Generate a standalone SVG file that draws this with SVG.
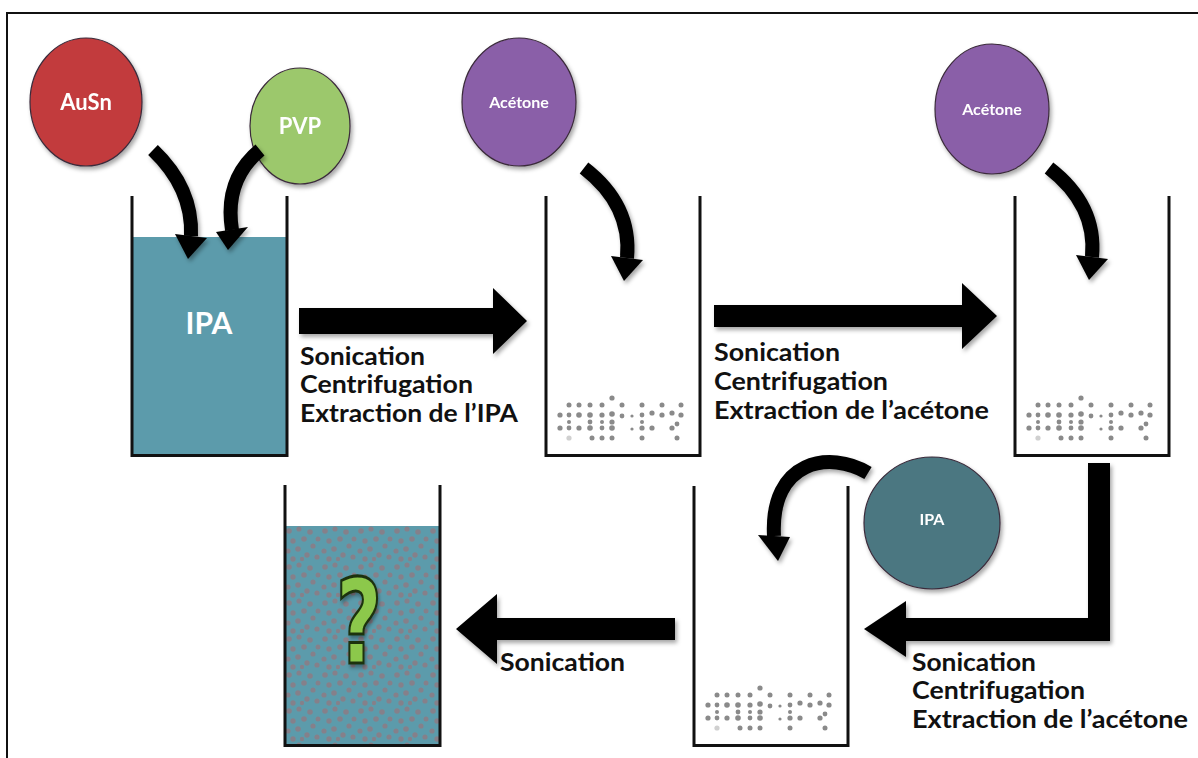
<svg xmlns="http://www.w3.org/2000/svg" width="1198" height="758" viewBox="0 0 1198 758">
<style>
.wall{fill:none;stroke:#111;stroke-width:3}
.liq{fill:#5c9bab}
.circ{stroke:#3a2a3a;stroke-width:1.2}
.ctext{font-family:"Lato","Liberation Sans",sans-serif;font-weight:700;fill:#fff;text-anchor:middle}
.lbl{font-family:"Lato","Liberation Sans",sans-serif;font-weight:700;font-size:24px;fill:#111}
.arr{fill:#000}
.carr{fill:none;stroke:#000;stroke-width:14}
.dot{fill:#8a8a8a}
</style>
<defs>
<filter id="sh" x="-20%" y="-20%" width="150%" height="150%">
<feDropShadow dx="2" dy="3" stdDeviation="2" flood-color="#000" flood-opacity="0.35"/>
</filter>
<pattern id="pdots" width="36" height="36" patternUnits="userSpaceOnUse" x="285" y="526">
<g fill="#8a7d86">
<circle cx="4" cy="5" r="2.8"/><circle cx="14" cy="3" r="2.6"/><circle cx="25" cy="6" r="2.8"/><circle cx="33" cy="13" r="2.5"/>
<circle cx="8" cy="15" r="2.7"/><circle cx="19" cy="13" r="2.8"/><circle cx="28" cy="20" r="2.6"/><circle cx="3" cy="25" r="2.6"/>
<circle cx="13" cy="23" r="2.8"/><circle cx="22" cy="29" r="2.7"/><circle cx="32" cy="31" r="2.6"/><circle cx="8" cy="33" r="2.7"/>
<circle cx="17" cy="33" r="2.2"/>
</g>
</pattern>
<g id="sed">
<circle class="dot" cx="66" cy="-57" r="2.6"/>
<circle class="dot" cx="23" cy="-50" r="2.5"/><circle class="dot" cx="33" cy="-50" r="2.5"/><circle class="dot" cx="44" cy="-50" r="2.5"/><circle class="dot" cx="56" cy="-50" r="2.5"/><circle class="dot" cx="76" cy="-50" r="2.5"/><circle class="dot" cx="96" cy="-50" r="2.5"/><circle class="dot" cx="116" cy="-50" r="2.5"/><circle class="dot" cx="135" cy="-50" r="2.5"/>
<circle class="dot" cx="14" cy="-40" r="2.6"/><circle class="dot" cx="23" cy="-40" r="2.4"/><circle class="dot" cx="33" cy="-40" r="2.8"/><circle class="dot" cx="44" cy="-40" r="2.8"/><circle class="dot" cx="56" cy="-40" r="2.6"/><circle class="dot" cx="66" cy="-41" r="2.8"/><circle class="dot" cx="76" cy="-39" r="2.4"/><circle class="dot" cx="86" cy="-39" r="1.6"/><circle class="dot" cx="96" cy="-40" r="2.4"/><circle class="dot" cx="106" cy="-42" r="2.6"/><circle class="dot" cx="116" cy="-40" r="2.6"/><circle class="dot" cx="126" cy="-42" r="2.6"/><circle class="dot" cx="135" cy="-40" r="2.6"/>
<circle class="dot" cx="23" cy="-33" r="2"/><circle class="dot" cx="44" cy="-33" r="2.4"/><circle class="dot" cx="56" cy="-33" r="2"/><circle class="dot" cx="66" cy="-33" r="2.6"/><circle class="dot" cx="96" cy="-33" r="2"/>
<circle class="dot" cx="14" cy="-27" r="2.6"/><circle class="dot" cx="23" cy="-27" r="2.4"/><circle class="dot" cx="33" cy="-27" r="2.6"/><circle class="dot" cx="44" cy="-27" r="2.8"/><circle class="dot" cx="56" cy="-27" r="2.4"/><circle class="dot" cx="66" cy="-27" r="2.8"/><circle class="dot" cx="86" cy="-26" r="1.6"/><circle class="dot" cx="96" cy="-27" r="2.6"/><circle class="dot" cx="106" cy="-27" r="2.6"/><circle class="dot" cx="126" cy="-27" r="2.6"/><circle class="dot" cx="131" cy="-31" r="2.4"/>
<circle cx="23" cy="-17" r="2.6" fill="#d0d0d0"/><circle class="dot" cx="46" cy="-17" r="2.5"/><circle class="dot" cx="56" cy="-17" r="2.5"/><circle class="dot" cx="66" cy="-17" r="2.5"/><circle class="dot" cx="96" cy="-17" r="2.5"/><circle class="dot" cx="131" cy="-17" r="2.5"/>
</g>
</defs>
<rect width="1198" height="758" fill="#fff"/>
<rect x="7" y="13" width="1220" height="800" fill="none" stroke="#111" stroke-width="2"/>

<g id="beaker-ipa">
<rect class="liq" x="132" y="237" width="155" height="218"/>
<path class="wall" d="M132 196 V455.5 H287 V196"/>
<text class="ctext" x="209" y="334" font-size="30">IPA</text>
</g>
<g id="beaker-2">
<path class="wall" d="M546 196 V455.5 H700 V196"/>
<use href="#sed" x="546" y="455"/>
</g>
<g id="beaker-3">
<path class="wall" d="M1015 196 V455.5 H1169 V196"/>
<use href="#sed" x="1015" y="455"/>
</g>
<g id="beaker-4">
<path class="wall" d="M694 486 V745.5 H848 V486"/>
<use href="#sed" x="694" y="745"/>
</g>
<g id="beaker-final">
<rect class="liq" x="286" y="526" width="153" height="219"/>
<rect x="286" y="526" width="153" height="219" fill="url(#pdots)" opacity="0.9"/>
<path class="wall" d="M285 485 V745.5 H440 V485"/>
<text x="0" y="0" transform="translate(359 663) scale(0.68 1)" font-family="DejaVu Sans,Liberation Sans,sans-serif" font-weight="700" font-size="118" fill="#8cc84b" stroke="#1e3010" stroke-width="3" text-anchor="middle" filter="url(#sh)">?</text>
</g>

<g id="node-ausn" filter="url(#sh)">
<ellipse class="circ" cx="86" cy="102" rx="56" ry="64" fill="#c23b3c"/>
<text class="ctext" x="86" y="110" font-size="22">AuSn</text>
</g>
<g id="node-pvp" filter="url(#sh)">
<ellipse class="circ" cx="300" cy="126" rx="50" ry="58" fill="#9cc86c"/>
<text class="ctext" x="300" y="134" font-size="22">PVP</text>
</g>
<g id="node-acetone-1" filter="url(#sh)">
<ellipse class="circ" cx="519" cy="102" rx="57" ry="64" fill="#8a5ea8"/>
<text class="ctext" x="519" y="108" font-size="16">Acétone</text>
</g>
<g id="node-acetone-2" filter="url(#sh)">
<ellipse class="circ" cx="992" cy="109" rx="57" ry="65" fill="#8a5ea8"/>
<text class="ctext" x="992" y="115" font-size="16">Acétone</text>
</g>
<g id="node-ipa" filter="url(#sh)">
<ellipse class="circ" cx="932" cy="523" rx="68" ry="66" fill="#4b7781"/>
<text class="ctext" x="932" y="525" font-size="16">IPA</text>
</g>

<g id="connectors" filter="url(#sh)">
<path class="carr" d="M153 150 Q193 188 191 236"/>
<polygon class="arr" points="175,234 207,238 188,259"/>
<path class="carr" d="M260 150 Q224 180 232 230"/>
<polygon class="arr" points="216,232 248,227 228,250"/>
<path class="carr" d="M584 168 Q632 205 627 258"/>
<polygon class="arr" points="611,256 643,260 624,281"/>
<path class="carr" d="M1049 168 Q1097 205 1092 257"/>
<polygon class="arr" points="1076,255 1108,259 1089,280"/>
<path class="carr" d="M868 473 C830 450 770 460 774 536"/>
<polygon class="arr" points="758,535 790,537 778,561"/>
<polygon class="arr" points="299,308 493,308 493,288 527,321 493,354 493,334 299,334"/>
<polygon class="arr" points="714,305 962,305 962,283 997,316 962,349 962,327 714,327"/>
<polygon class="arr" points="1088,463 1110,463 1110,641 906,641 906,657 864,629 906,601 906,618 1088,618"/>
<polygon class="arr" points="675,618 497,618 497,594 456,629 497,664 497,640 675,640"/>
</g>

<g id="labels">
<text class="lbl" x="300" y="365" textLength="125" lengthAdjust="spacingAndGlyphs">Sonication</text>
<text class="lbl" x="300" y="393" textLength="173" lengthAdjust="spacingAndGlyphs">Centrifugation</text>
<text class="lbl" x="300" y="422" textLength="218" lengthAdjust="spacingAndGlyphs">Extraction de l’IPA</text>
<text class="lbl" x="714" y="361" textLength="126" lengthAdjust="spacingAndGlyphs">Sonication</text>
<text class="lbl" x="714" y="390" textLength="174" lengthAdjust="spacingAndGlyphs">Centrifugation</text>
<text class="lbl" x="714" y="419" textLength="275" lengthAdjust="spacingAndGlyphs">Extraction de l’acétone</text>
<text class="lbl" x="912" y="671" textLength="124" lengthAdjust="spacingAndGlyphs">Sonication</text>
<text class="lbl" x="912" y="699" textLength="173" lengthAdjust="spacingAndGlyphs">Centrifugation</text>
<text class="lbl" x="912" y="728" textLength="276" lengthAdjust="spacingAndGlyphs">Extraction de l’acétone</text>
<text class="lbl" x="500" y="671" textLength="125" lengthAdjust="spacingAndGlyphs">Sonication</text>
</g>
</svg>
